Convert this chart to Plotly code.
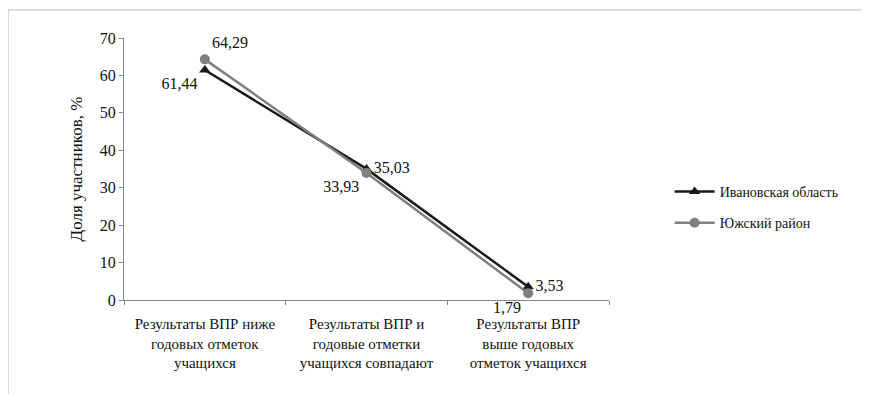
import plotly.graph_objects as go

categories = [
    'Результаты ВПР ниже<br>годовых отметок<br>учащихся',
    'Результаты ВПР и<br>годовые отметки<br>учащихся совпадают',
    'Результаты ВПР<br>выше годовых<br>отметок учащихся',
]
ivanovo = [61.44, 35.03, 3.53]
yuzha = [64.29, 33.93, 1.79]
ivanovo_labels = ['61,44', '35,03', '3,53']
yuzha_labels = ['64,29', '33,93', '1,79']
y_ticks = [0, 10, 20, 30, 40, 50, 60, 70]

FONT = 'Times New Roman, Liberation Serif, serif'

fig = go.Figure()
fig.add_trace(go.Scatter(
    x=categories, y=ivanovo, mode='lines+markers+text', name='Ивановская область',
    legendgroup='a', cliponaxis=False,
    line=dict(color='#1a1a1a', width=2.5),
    marker=dict(symbol='triangle-up', size=10, color='#1a1a1a'),
    text=ivanovo_labels, textposition=['bottom left', 'middle right', 'middle right'],
    textfont=dict(family=FONT, size=16, color='#111')
))
fig.add_trace(go.Scatter(
    x=categories, y=yuzha, mode='lines+markers+text', name='Южский район',
    legendgroup='b', cliponaxis=False,
    line=dict(color='#7f7f7f', width=2.5),
    marker=dict(symbol='circle', size=10, color='#7f7f7f'),
    text=yuzha_labels, textposition=['top right', 'bottom left', 'bottom left'],
    textfont=dict(family=FONT, size=16, color='#111')
))

fig.update_layout(
    width=869, height=394,
    margin=dict(l=116, r=268, t=30, b=102),
    paper_bgcolor='white', plot_bgcolor='white',
    font=dict(family=FONT, size=14, color='#111'),
    showlegend=True,
    legend=dict(x=1.125, y=0.353, xanchor='left', yanchor='middle',
                font=dict(family=FONT, size=14, color='#111'),
                itemwidth=40, tracegroupgap=10),
    xaxis=dict(type='category', range=[-0.5, 2.5], showgrid=False,
               showline=True, linecolor='#888', linewidth=1,
               ticks='outside', tickson='boundaries', ticklen=4, tickcolor='#888',
               ticklabelstandoff=10,
               tickfont=dict(family=FONT, size=15, color='#111')),
    yaxis=dict(range=[0, 70], tickvals=y_ticks, showgrid=False, zeroline=False,
               showline=True, linecolor='#888', linewidth=1,
               ticks='outside', ticklen=4, tickcolor='#888',
               tickfont=dict(family=FONT, size=16, color='#111'),
               title=dict(text='Доля участников, %', standoff=12,
                          font=dict(family=FONT, size=17, color='#111'))),
    shapes=[
        dict(type='line', xref='paper', yref='paper', x0=-0.239, x1=1.53, y0=1.107, y1=1.107,
             line=dict(color='#bbb', width=1)),
        dict(type='line', xref='paper', yref='paper', x0=-0.239, x1=-0.239, y0=1.107, y1=-0.36,
             line=dict(color='#bbb', width=1)),
    ],
)

fig.write_html('out.html')
